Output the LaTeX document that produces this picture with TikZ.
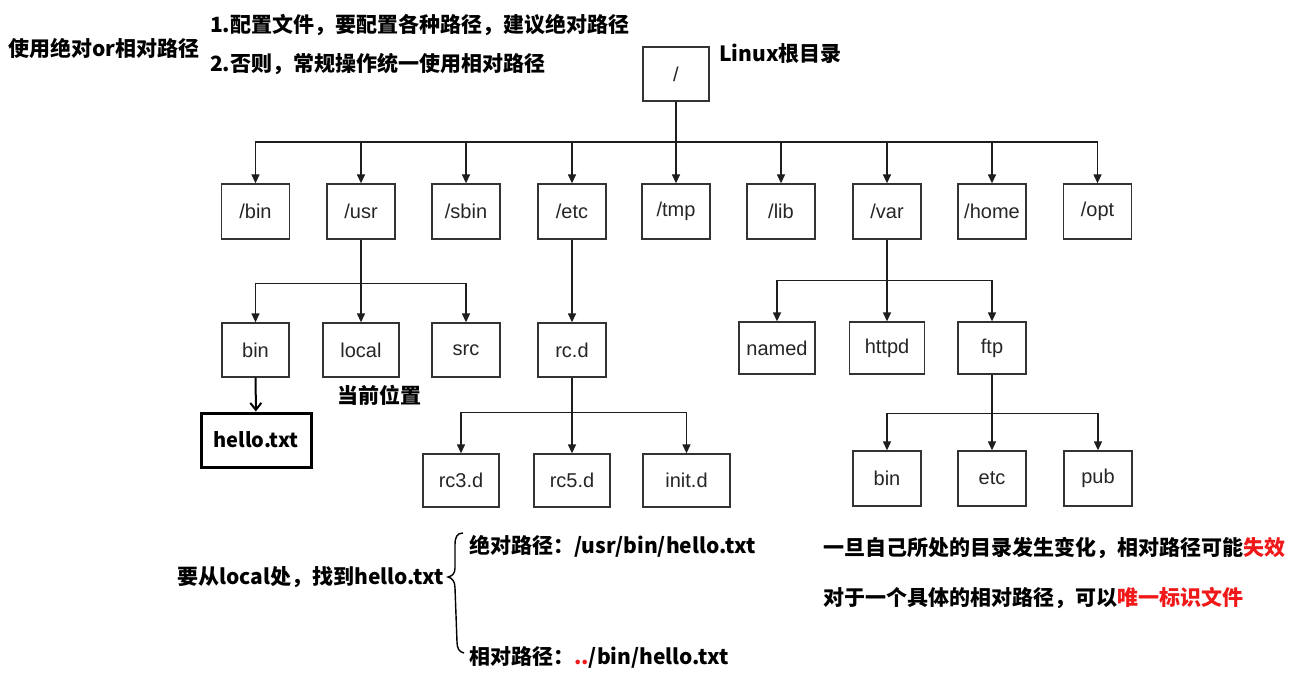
\documentclass[tikz,border=0pt]{standalone}
\usepackage{fontspec}
\newfontfamily\cjk{Noto Sans CJK SC}
\newfontfamily\lsans{Liberation Sans}
\usetikzlibrary{arrows.meta}
\definecolor{linec}{HTML}{1E1E1E}
\definecolor{boxc}{HTML}{333333}
\definecolor{hot}{HTML}{F01818}
\newcommand\boxfont{\lsans\fontsize{20}{24}\selectfont}
\newcommand\cjkfont{\cjk\bfseries\fontsize{21}{25}\selectfont}
\tikzset{
  box/.style={draw=boxc, line width=1.3pt, minimum width=68pt, minimum height=55pt, inner sep=0pt, font=\boxfont, text=black!85},
  lbl/.style={inner sep=0pt, anchor=west, font=\cjkfont, text=black},
  arr/.style={draw=linec, line width=1.3pt, -{Triangle[length=9pt,width=8pt]}},
  ln/.style={draw=linec, line width=1.3pt},
}
\begin{document}
\begin{tikzpicture}[x=1pt,y=-1pt]
\fill[white] (0,0) rectangle (1299,679);
\useasboundingbox (0,0) rectangle (1299,679);

% texts
\node[lbl] (t1) at (8,48) {使用绝对or相对路径};
\node[lbl] (t2) at (210,25) {1.配置文件，要配置各种路径，建议绝对路径};
\node[lbl] (t3) at (210,64) {2.否则，常规操作统一使用相对路径};
\node[lbl] (linux) at (719,54) {Linux根目录};
\node[lbl] (cur) at (337,395) {当前位置};
\node[lbl] (q) at (177,577) {要从local处，找到hello.txt};
\node[lbl] (abs) at (469,546) {绝对路径：/usr/bin/hello.txt};
\node[lbl] (rel) at (469,657) {相对路径：{\color{hot}..}/bin/hello.txt};
\node[lbl] (r1) at (823,548) {一旦自己所处的目录发生变化，相对路径可能{\color{hot}失效}};
\node[lbl] (r2) at (823,598) {对于一个具体的相对路径，可以{\color{hot}唯一标识文件}};

% root
\node[box, minimum width=66pt, minimum height=54pt] (root) at (676,74) {/};

% level 1
\node[box] (rbin)  at (255.5,211.5) {/bin};
\node[box] (rusr)  at (361,211.5) {/usr};
\node[box] (rsbin) at (466,211.5) {/sbin};
\node[box] (retc)  at (572,211.5) {/etc};
\node[box] (rtmp)  at (676,211.5) {/tmp};
\node[box] (rlib)  at (781,211.5) {/lib};
\node[box] (rvar)  at (887,211.5) {/var};
\node[box] (rhome) at (992,211.5) {/home};
\node[box] (ropt)  at (1097.5,211.5) {/opt};

\coordinate (b0) at (676,142);
\draw[ln] (root) -- (b0);
\foreach \n in {rbin,rusr,rsbin,retc,rtmp,rlib,rvar,rhome,ropt}
  \draw[arr] (b0) -| (\n.north);

% usr children
\node[box, minimum width=67pt, minimum height=54pt] (ubin) at (255.5,350) {bin};
\node[box, minimum width=76pt, minimum height=54pt] (ulocal) at (361,350) {local};
\node[box, minimum height=54pt] (usrc) at (466,350) {src};
\path (rusr.south) ++(0,44) coordinate (b1);
\draw[ln] (rusr) -- (b1);
\foreach \n in {ubin,ulocal,usrc}
  \draw[arr] (b1) -| (\n.north);

% hello.txt
\node[draw=black, line width=3pt, minimum width=110pt, minimum height=54pt, inner sep=0pt,
      font={\cjk\bfseries\fontsize{20}{24}\selectfont}] (hello) at (256,440) {hello.txt};
\draw[draw=black, line width=2pt, -{Straight Barb[length=7pt,width=11pt]}] (ubin) -- (hello);

% etc
\node[box, minimum height=54pt] (rcd) at (572,350) {rc.d};
\draw[arr] (retc) -- (rcd);
\node[box, minimum width=76pt, minimum height=53pt] (rc3) at (461,480.5) {rc3.d};
\node[box, minimum width=76pt, minimum height=53pt] (rc5) at (572,480.5) {rc5.d};
\node[box, minimum width=87pt, minimum height=53pt] (init) at (686.5,480.5) {init.d};
\path (rcd.south) ++(0,35) coordinate (b2);
\draw[ln] (rcd) -- (b2);
\foreach \n in {rc3,rc5,init}
  \draw[arr] (b2) -| (\n.north);

% var
\node[box, minimum width=76pt, minimum height=52pt] (named) at (777,348) {named};
\node[box, minimum width=75pt, minimum height=52pt] (httpd) at (887,348) {httpd};
\node[box, minimum height=52pt] (ftp) at (992,348) {ftp};
\path (rvar.south) ++(0,41) coordinate (b3);
\draw[ln] (rvar) -- (b3);
\foreach \n in {named,httpd,ftp}
  \draw[arr] (b3) -| (\n.north);

% ftp children
\node[box] (fbin) at (887,478.5) {bin};
\node[box] (fetc) at (992,478.5) {etc};
\node[box] (fpub) at (1098,478.5) {pub};
\path (ftp.south) ++(0,39) coordinate (b4);
\draw[ln] (ftp) -- (b4);
\foreach \n in {fbin,fetc,fpub}
  \draw[arr] (b4) -| (\n.north);

% brace
\draw[black, line width=1.4pt] (463,533) .. controls (457,533) and (455,537) .. (455,545)
  -- (455,568) .. controls (455,574) and (452,576) .. (448,577)
  .. controls (452,578) and (455,581) .. (455,588)
  -- (457,642) .. controls (457,648) and (459,652) .. (464,653);
\end{tikzpicture}
\end{document}
